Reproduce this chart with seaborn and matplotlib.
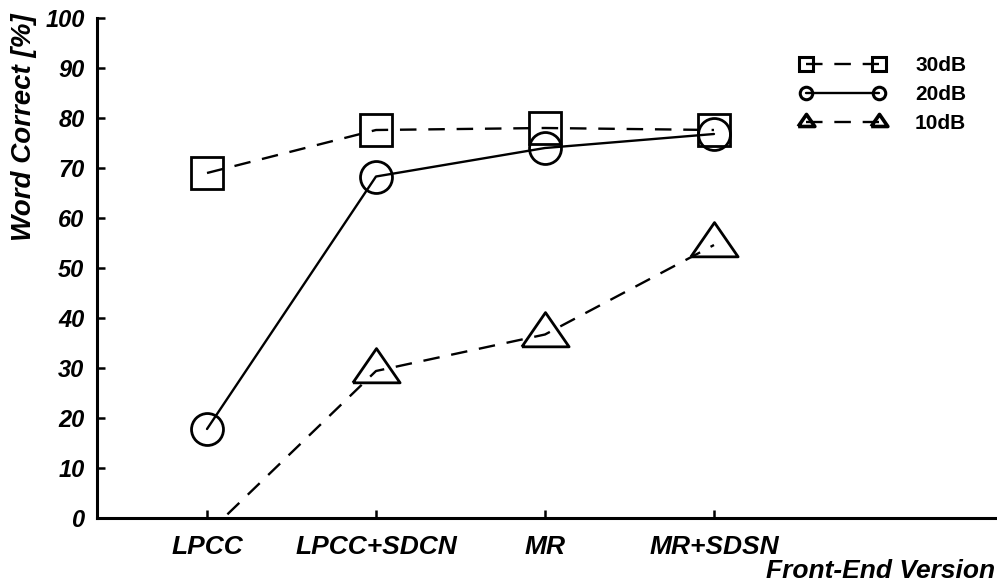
import matplotlib
matplotlib.use("Agg")
import matplotlib.pyplot as plt
from matplotlib.lines import Line2D
import seaborn as sns
import pandas as pd
import numpy as np

categories = ["LPCC", "LPCC+SDCN", "MR", "MR+SDSN"]
series_names = ["30dB", "20dB", "10dB"]
vals_30db = [69.0, 77.6, 78.0, 77.6]
vals_20db = [17.8, 68.3, 74.0, 76.8]
vals_10db = [-3.2, 29.4, 36.7, 54.6]
y_ticks = [0, 10, 20, 30, 40, 50, 60, 70, 80, 90, 100]

sns.set_style("white")
plt.rcParams["font.family"] = ["Liberation Sans", "DejaVu Sans"]
plt.rcParams["font.weight"] = "bold"
plt.rcParams["font.style"] = "italic"
for k in ["text.color", "axes.labelcolor", "xtick.color", "ytick.color", "axes.edgecolor"]:
    plt.rcParams[k] = "black"

rows = []
for name, vals in zip(series_names, [vals_30db, vals_20db, vals_10db]):
    for i, v in enumerate(vals):
        rows.append({"pos": i, "value": v, "series": name})
df = pd.DataFrame(rows)

fig = plt.figure(figsize=(9.97, 5.81), dpi=100)
ax = fig.add_axes([97 / 997, 1 - 518 / 581, (995 - 97) / 997, (518 - 18) / 581])

tri = [(-1, -0.48), (1, -0.48), (0, 0.97), (-1, -0.48)]
dash = (0, (7, 5))

styles = {
    "30dB": dict(marker="s", markersize=23.5, linestyle=dash),
    "20dB": dict(marker="o", markersize=23, linestyle="-"),
    "10dB": dict(marker=tri, markersize=34, linestyle=dash, markevery=[1, 2, 3]),
}

for name in series_names:
    sub = df[df["series"] == name]
    sns.lineplot(data=sub, x="pos", y="value", ax=ax, color="black",
                 linewidth=1.7, markerfacecolor="none", markeredgecolor="black",
                 markeredgewidth=2.0, errorbar=None, legend=False,
                 **styles[name])

ax.set_xlim(-0.651, 4.663)
ax.set_ylim(0, 100)
ax.set_xticks(range(len(categories)))
ax.set_xticklabels(categories)
ax.set_yticks(y_ticks)
ax.set_yticklabels([str(t) for t in y_ticks])

for s in ["top", "right"]:
    ax.spines[s].set_visible(False)
for s in ["left", "bottom"]:
    ax.spines[s].set_linewidth(2.2)
    ax.spines[s].set_color("black")

ax.tick_params(axis="both", direction="in", length=6, width=1.8, color="black",
               left=True, bottom=True)
ax.tick_params(axis="y", labelsize=17, pad=9)
ax.tick_params(axis="x", labelsize=19, pad=12)
for lab in ax.get_xticklabels() + ax.get_yticklabels():
    lab.set_fontweight("bold")
    lab.set_fontstyle("italic")
    lab.set_color("black")

ax.set_xlabel("Front-End Version", fontsize=19, fontweight="bold",
              fontstyle="italic", loc="right", labelpad=0)
ax.set_ylabel("Word Correct [%]", fontsize=20, fontweight="bold",
              fontstyle="italic", loc="top")
ax.yaxis.set_label_coords(-0.0668, 1.01)

handles = [
    Line2D([], [], color="black", lw=1.7, linestyle=dash, marker="s",
           markersize=9.5, mfc="none", mec="black", mew=2.2),
    Line2D([], [], color="black", lw=1.7, linestyle="-", marker="o",
           markersize=9, mfc="none", mec="black", mew=2.2),
    Line2D([], [], color="black", lw=1.7, linestyle=dash, marker=tri,
           markersize=12, mfc="none", mec="black", mew=2.6),
]
leg = fig.legend(handles, series_names, loc="upper left",
                 bbox_to_anchor=(800 / 997, 1 - 56 / 581), frameon=False,
                 numpoints=2, handlelength=4.1, handletextpad=1.42,
                 labelspacing=0.48, borderpad=0, borderaxespad=0,
                 prop={"family": "Liberation Sans", "weight": "bold",
                       "style": "normal", "size": 15})

fig.savefig("out.png", dpi=100)
